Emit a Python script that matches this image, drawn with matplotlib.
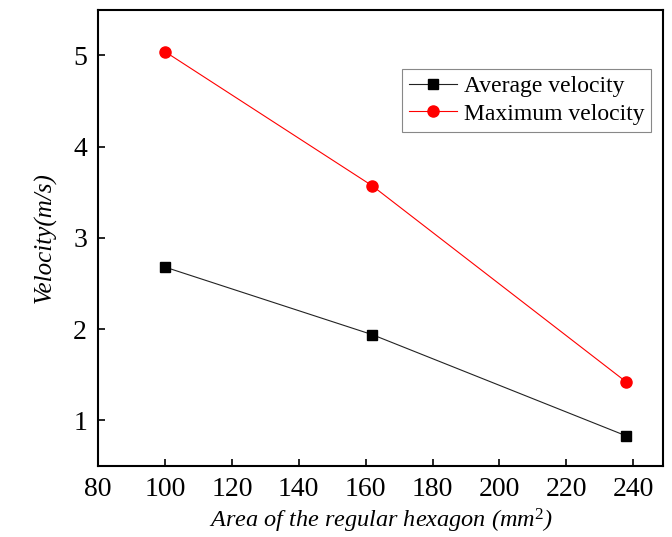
import matplotlib
matplotlib.use('Agg')
import matplotlib.pyplot as plt

# datos
area = [100, 162, 238]
vel_media = [2.68, 1.94, 0.83]
vel_max = [5.04, 3.57, 1.42]
xticks = [80, 100, 120, 140, 160, 180, 200, 220, 240]
yticks = [1, 2, 3, 4, 5]

plt.rcParams['font.family'] = 'Liberation Serif'
plt.rcParams['mathtext.fontset'] = 'custom'
plt.rcParams['mathtext.it'] = 'Liberation Serif:italic'
plt.rcParams['mathtext.rm'] = 'Liberation Serif'

fig = plt.figure(figsize=(6.72, 5.37), dpi=100)
ax = fig.add_axes([0.146, 0.132, 0.841, 0.850])

ax.plot(area, vel_media, color='#222222', lw=0.8, marker='s', ms=7,
        mfc='black', mec='black', label='Average velocity')
ax.plot(area, vel_max, color='red', lw=0.8, marker='o', ms=8,
        mfc='red', mec='red', label='Maximum velocity')

ax.set_xlim(80, 249)
ax.set_ylim(0.5, 5.5)
ax.set_xticks(xticks)
ax.set_yticks(yticks)
ax.tick_params(direction='in', length=5, width=1.2, labelsize=20, pad=8,
               top=False, right=False)
for s in ax.spines.values():
    s.set_linewidth(1.5)

ax.set_xlabel(r'Area of the regular hexagon (mm$^{\mathit{2}}$)',
              fontsize=17.5, style='italic', labelpad=3)
ax.set_ylabel('Velocity(m/s)', fontsize=18, style='italic', labelpad=12)

leg = ax.legend(loc='upper right', bbox_to_anchor=(0.979, 0.871), fontsize=17,
                fancybox=False, edgecolor='#888888', framealpha=1,
                handlelength=2.0, borderpad=0.3, labelspacing=0.25,
                handletextpad=0.3, borderaxespad=0)
leg.get_frame().set_linewidth(0.8)

fig.savefig('out.png', dpi=100)
